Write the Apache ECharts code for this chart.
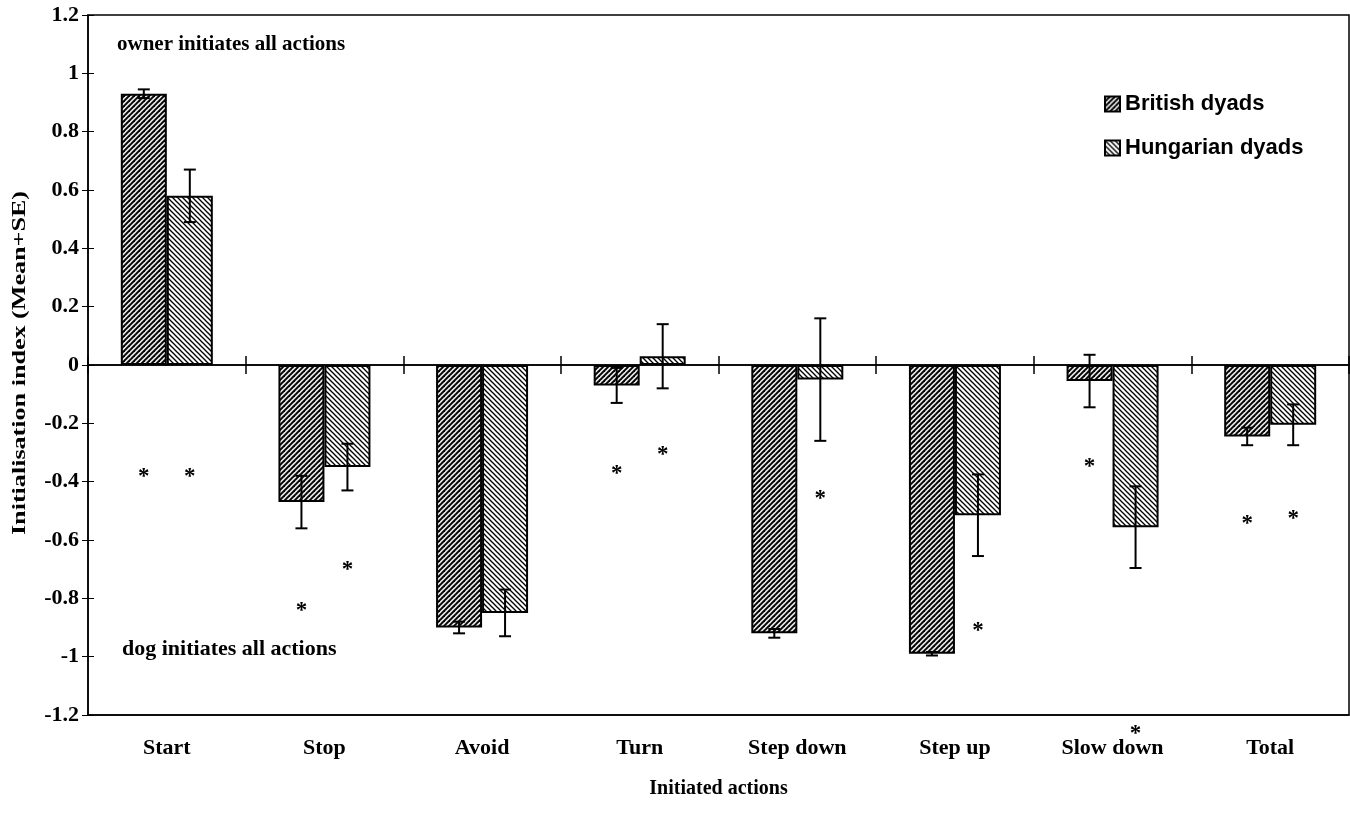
<!DOCTYPE html>
<html>
<head>
<meta charset="utf-8">
<script src="https://cdn.jsdelivr.net/npm/echarts@6/dist/echarts.min.js"></script>
<style>
  html, body { margin: 0; padding: 0; background: #fff; }
  #chart { width: 1350px; height: 826px; }
</style>
</head>
<body>
<div id="chart"></div>
<script>
// values
const categories = ['Start', 'Stop', 'Avoid', 'Turn', 'Step down', 'Step up', 'Slow down', 'Total']
const britishMean = [0.93, -0.47, -0.90, -0.07, -0.92, -0.99, -0.055, -0.245]
const britishSE = [0.015, 0.09, 0.02, 0.06, 0.015, 0.006, 0.09, 0.03]
const hungarianMean = [0.58, -0.35, -0.85, 0.03, -0.05, -0.515, -0.556, -0.205]
const hungarianSE = [0.09, 0.08, 0.08, 0.11, 0.21, 0.14, 0.14, 0.07]
// asterisk heights (null = no asterisk)
const britishStar = [-0.37, -0.83, null, -0.36, null, null, -0.335, -0.53]
const hungarianStar = [-0.37, -0.69, null, -0.295, -0.445, -0.90, -1.25, -0.515]

const serif = '"Liberation Serif", "Times New Roman", serif'
const sans = '"Liberation Sans", Arial, sans-serif'
const BAR_W = 46

// hatch fill, dir 1 = "/" , dir -1 = "\"
function hatch (dir, size, lineW, bg) {
  const c = document.createElement('canvas')
  c.width = size
  c.height = size
  const ctx = c.getContext('2d')
  ctx.fillStyle = bg
  ctx.fillRect(0, 0, size, size)
  ctx.strokeStyle = '#000'
  ctx.lineWidth = lineW
  const segs = dir > 0
    ? [[0, size, size, 0], [-size, size, size, -size], [0, 2 * size, 2 * size, 0]]
    : [[0, 0, size, size], [-size, 0, size, 2 * size], [0, -size, 2 * size, size]]
  segs.forEach(s => {
    ctx.beginPath()
    ctx.moveTo(s[0], s[1])
    ctx.lineTo(s[2], s[3])
    ctx.stroke()
  })
  return { image: c, repeat: 'repeat' }
}

const britishFill = hatch(1, 5, 1.9, '#e6e6e6')
const hungarianFill = hatch(-1, 5, 1.3, '#ffffff')

function errData (means, ses) {
  return means.map((m, i) => [i, m, ses[i]])
}
function starData (vals) {
  return vals.map((v, i) => [i, v]).filter(d => d[1] !== null)
}

function errRender (side) {
  return function (params, api) {
    const i = api.value(0)
    const m = api.value(1)
    const se = api.value(2)
    const x = api.coord([i, 0])[0] + side * BAR_W / 2
    const top = api.coord([i, m + se])[1]
    const bot = api.coord([i, m - se])[1]
    const st = { stroke: '#000', lineWidth: 2 }
    return {
      type: 'group',
      children: [
        { type: 'line', shape: { x1: x, y1: top, x2: x, y2: bot }, style: st },
        { type: 'line', shape: { x1: x - 6, y1: top, x2: x + 6, y2: top }, style: st },
        { type: 'line', shape: { x1: x - 6, y1: bot, x2: x + 6, y2: bot }, style: st }
      ]
    }
  }
}

function starRender (side) {
  return function (params, api) {
    const i = api.value(0)
    const p = api.coord([i, api.value(1)])
    return {
      type: 'text',
      x: p[0] + side * BAR_W / 2,
      y: p[1] + 4,
      style: {
        text: '*',
        fill: '#000',
        font: 'bold 23px ' + serif,
        align: 'center',
        verticalAlign: 'middle'
      }
    }
  }
}

const chart = echarts.init(document.getElementById('chart'))
const yCommon = {
  type: 'value',
  min: -1.2,
  max: 1.2,
  interval: 0.2,
  splitLine: { show: false }
}
const tickStyle = { color: '#000', width: 1.5 }
const option = {
  animation: false,
  backgroundColor: '#fff',
  grid: {
    left: 88,
    right: 1,
    top: 15,
    bottom: 111,
    outerBoundsMode: 'none',
    containLabel: false,
    show: true,
    borderColor: '#000',
    borderWidth: 1.5
  },
  legend: {
    orient: 'vertical',
    left: 1099,
    top: 88,
    itemWidth: 15,
    itemHeight: 15,
    itemGap: 22,
    icon: 'rect',
    textStyle: { fontFamily: sans, fontWeight: 'bold', fontSize: 22, color: '#000' },
    data: ['British dyads', 'Hungarian dyads']
  },
  xAxis: [
    {
      type: 'category',
      data: categories,
      position: 'bottom',
      axisLine: { show: true, onZero: true, lineStyle: tickStyle },
      axisTick: { show: true, interval: 0, length: 9, lineStyle: tickStyle },
      axisLabel: { show: false }
    },
    {
      type: 'category',
      data: categories,
      position: 'top',
      axisLine: { show: true, onZero: true, lineStyle: tickStyle },
      axisTick: { show: true, interval: 0, length: 9, lineStyle: tickStyle },
      axisLabel: { show: false }
    },
    {
      type: 'category',
      data: categories,
      position: 'bottom',
      axisLine: { show: true, onZero: false, lineStyle: tickStyle },
      axisTick: { show: false },
      axisLabel: { margin: 22, fontFamily: serif, fontWeight: 'bold', fontSize: 22, color: '#000' },
      name: 'Initiated actions',
      nameLocation: 'middle',
      nameGap: 64,
      nameTextStyle: { fontFamily: serif, fontWeight: 'bold', fontSize: 20, color: '#000' }
    }
  ],
  yAxis: [
    Object.assign({}, yCommon, {
      axisLine: { show: true, lineStyle: tickStyle },
      axisTick: { show: true, length: 6, lineStyle: { color: '#000', width: 1 } },
      axisLabel: {
        margin: 9,
        fontFamily: serif,
        fontWeight: 'bold',
        fontSize: 22,
        color: '#000',
        formatter: v => String(Math.round(v * 10) / 10)
      }
    }),
    Object.assign({}, yCommon, {
      position: 'left',
      axisLine: { show: false },
      axisTick: { show: true, inside: true, length: 6, lineStyle: { color: '#000', width: 1 } },
      axisLabel: { show: false }
    })
  ],
  graphic: [
    {
      type: 'text', left: 117, top: 34,
      style: { text: 'owner initiates all actions', font: 'bold 21px ' + serif, fill: '#000' }
    },
    {
      type: 'text', left: 122, top: 638,
      style: { text: 'dog initiates all actions', font: 'bold 22px ' + serif, fill: '#000' }
    },
    {
      type: 'text',
      x: 20,
      y: 363,
      rotation: Math.PI / 2,
      scaleX: 1.45,
      style: {
        text: 'Initialisation index (Mean+SE)',
        font: 'bold 18px ' + serif,
        fill: '#000',
        align: 'center',
        verticalAlign: 'middle'
      }
    }
  ],
  series: [
    {
      name: 'British dyads',
      type: 'bar',
      xAxisIndex: 0,
      data: britishMean,
      barWidth: BAR_W,
      barGap: '0%',
      itemStyle: { color: britishFill, borderColor: '#000', borderWidth: 2 }
    },
    {
      name: 'Hungarian dyads',
      type: 'bar',
      xAxisIndex: 0,
      data: hungarianMean,
      barWidth: BAR_W,
      barGap: '0%',
      itemStyle: { color: hungarianFill, borderColor: '#000', borderWidth: 2 }
    },
    { type: 'custom', data: errData(britishMean, britishSE), renderItem: errRender(-1), z: 5, silent: true },
    { type: 'custom', data: errData(hungarianMean, hungarianSE), renderItem: errRender(1), z: 5, silent: true },
    { type: 'custom', data: starData(britishStar), renderItem: starRender(-1), clip: false, silent: true },
    { type: 'custom', data: starData(hungarianStar), renderItem: starRender(1), clip: false, silent: true }
  ]
}
chart.setOption(option)
</script>
</body>
</html>
